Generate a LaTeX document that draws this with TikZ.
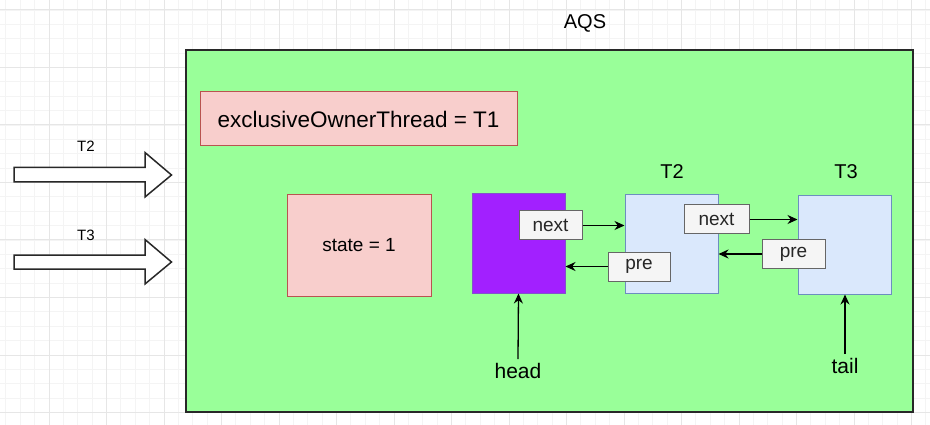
\documentclass[tikz,border=0pt]{standalone}
\usepackage{fontspec}
\setmainfont{Liberation Sans}
\usetikzlibrary{arrows.meta}
\definecolor{gridminor}{RGB}{244,244,244}
\definecolor{gridmajor}{RGB}{230,230,230}
\definecolor{aqsfill}{RGB}{153,255,153}
\definecolor{aqsline}{RGB}{40,40,40}
\definecolor{pinkfill}{RGB}{248,206,204}
\definecolor{pinkline}{RGB}{184,84,80}
\definecolor{purplefill}{RGB}{162,32,255}
\definecolor{purpleline}{RGB}{130,84,200}
\definecolor{bluefill}{RGB}{218,232,252}
\definecolor{blueline}{RGB}{108,142,191}
\definecolor{lblfill}{RGB}{245,245,245}
\definecolor{lblline}{RGB}{102,102,102}
\tikzset{
  box/.style={rectangle, inner sep=0pt, line width=1pt},
  aqsbox/.style={box, fill=aqsfill, draw=aqsline, line width=1.5pt},
  pinkbox/.style={box, fill=pinkfill, draw=pinkline},
  purplebox/.style={box, fill=purplefill, draw=purpleline},
  bluebox/.style={box, fill=bluefill, draw=blueline},
  lblbox/.style={box, fill=lblfill, draw=lblline, font=\fontsize{19}{22}\selectfont, text=black!85},
  txt/.style={inner sep=0pt, text=black},
  arr/.style={-{Stealth[length=10pt,width=9pt]}, line width=1.3pt, draw=black},
  blockarrow/.style={fill=white, draw=aqsline, line width=1.5pt, line join=miter},
  minorg/.style={draw=gridminor, line width=0.8pt},
  majorg/.style={draw=gridmajor, line width=1pt}
}
\begin{document}
\begin{tikzpicture}[x=1pt,y=-1pt]
\useasboundingbox (0,0) rectangle (930,425);
\fill[white] (0,0) rectangle (930,425);
% grid
\foreach \i in {0,...,66} {\draw[minorg] ({-8.5+14.375*\i},0) -- ({-8.5+14.375*\i},425);}
\foreach \i in {0,...,30} {\draw[minorg] (0,{-4.375+14.375*\i}) -- (930,{-4.375+14.375*\i});}
\foreach \i in {0,...,17} {\draw[majorg] ({-8.5+57.5*\i},0) -- ({-8.5+57.5*\i},425);}
\foreach \i in {0,...,8} {\draw[majorg] (0,{10+57.5*\i}) -- (930,{10+57.5*\i});}
% AQS container
\node[aqsbox, minimum width=727pt, minimum height=362pt] (aqs) at (549.5,231) {};
\node[txt, font=\fontsize{20}{24}\selectfont] (aqstitle) at (585,23) {AQS};
% inner boxes
\node[pinkbox, minimum width=317pt, minimum height=54pt, font=\fontsize{22.5}{26}\selectfont] (owner) at (358.5,119) {exclusiveOwnerThread = T1};
\node[pinkbox, minimum width=144pt, minimum height=101pt, font=\fontsize{19}{22}\selectfont] (state) at (359,245.5) {state = 1};
\node[purplebox, minimum width=93pt, minimum height=99pt] (headbox) at (518.5,243.5) {};
\node[bluebox, minimum width=93pt, minimum height=98pt] (t2box) at (671.5,244) {};
\node[bluebox, minimum width=93pt, minimum height=98pt] (t3box) at (844.5,245) {};
\node[txt, font=\fontsize{20}{24}\selectfont] (t2title) at (672,172) {T2};
\node[txt, font=\fontsize{20}{24}\selectfont] (t3title) at (846,172) {T3};
% pointer labels
\node[lblbox, minimum width=63pt, minimum height=29pt] (next1) at (550.5,225.5) {next};
\node[lblbox, minimum width=62pt, minimum height=29pt] (pre1) at (639,266.5) {pre};
\node[lblbox, minimum width=65pt, minimum height=29pt] (next2) at (716.5,219.5) {next};
\node[lblbox, minimum width=63pt, minimum height=28pt] (pre2) at (793.5,254) {pre};
\draw[arr] (next1.east) -- (t2box.west |- next1.east);
\draw[arr] (pre1.west) -- (headbox.east |- pre1.west);
\draw[arr] (next2.east) -- (t3box.west |- next2.east);
\draw[arr] (pre2.west) -- (t2box.east |- pre2.west);
% head / tail
\node[txt, inner sep=4pt, font=\fontsize{21}{25}\selectfont] (headlbl) at (518,371) {head};
\node[txt, inner sep=4pt, font=\fontsize{21}{25}\selectfont] (taillbl) at (845,366) {tail};
\draw[arr] (headlbl.north) -- (headbox.south);
\draw[arr] (taillbl.north) -- (taillbl.north |- t3box.south);
% incoming block arrows
\draw[blockarrow] (14,167.5) -- (145,167.5) -- (145,152.5) -- (171.5,175) -- (145,197) -- (145,182) -- (14,182) -- cycle;
\draw[blockarrow] (14,255) -- (145,255) -- (145,239.5) -- (171.5,262) -- (145,284) -- (145,269) -- (14,269) -- cycle;
\node[txt, font=\fontsize{15}{18}\selectfont] (inT2) at (86,146) {T2};
\node[txt, font=\fontsize{15}{18}\selectfont] (inT3) at (86,235) {T3};
\end{tikzpicture}
\end{document}
